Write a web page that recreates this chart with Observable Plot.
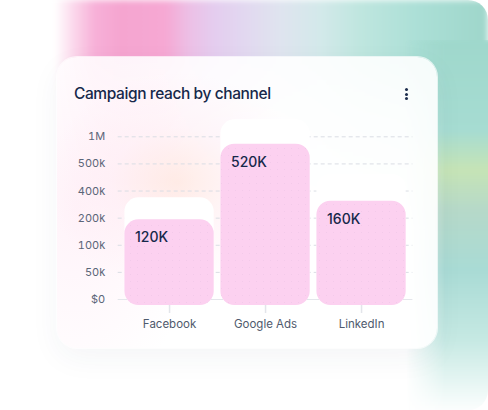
<!DOCTYPE html>
<html>
<head>
<meta charset="utf-8">
<script src="https://cdn.jsdelivr.net/npm/d3@7"></script>
<script src="https://cdn.jsdelivr.net/npm/@observablehq/plot@0.6"></script>
<style>
  html, body { margin: 0; padding: 0; background: #fff; }
  #page { position: absolute; left: 0; top: 0; width: 488px; height: 410px; border-radius: 20px; overflow: hidden; background: #fff; font-family: Inter, "Noto Sans", sans-serif; }
  #artTop { position: absolute; left: 0; top: 0; width: 488px; height: 230px;
    background: linear-gradient(90deg, #ffffff 0px, #ffffff 55px, #fbd5ea 75px, #f7b0d8 95px, #f5a5d0 120px, #f6a8d3 165px, #ecc0e6 190px, #e4cdef 215px, #e2d8f0 245px, #dfe4ef 280px, #d3e9ea 320px, #bfe6df 360px, #abdfd6 420px, #9ed6ca 488px);
    -webkit-mask-image: linear-gradient(180deg, #000 0px, #000 62px, rgba(0,0,0,0.5) 120px, rgba(0,0,0,0) 230px);
    mask-image: linear-gradient(180deg, #000 0px, #000 62px, rgba(0,0,0,0.5) 120px, rgba(0,0,0,0) 230px);
    filter: blur(3px); }
  #artRight { position: absolute; left: 405px; top: 40px; width: 90px; height: 375px;
    background: linear-gradient(180deg, #9fd8cc 0px, #a6dcd2 90px, #c6e4b6 130px, #b6d9c9 170px, #a9dbd5 230px, #c6e9e3 300px, #f4fbfa 360px, #ffffff 375px);
    -webkit-mask-image: linear-gradient(90deg, rgba(0,0,0,0) 0px, #000 40px);
    mask-image: linear-gradient(90deg, rgba(0,0,0,0) 0px, #000 40px);
    filter: blur(2px); }
  #card { position: absolute; left: 57px; top: 57px; width: 380px; height: 291px; border-radius: 20px;
    background: rgba(255,255,255,0.9);
    box-shadow: 0 0 0 1px rgba(255,255,255,0.7), 0 10px 30px rgba(40,60,90,0.05);
    overflow: hidden; }
  #glow { position: absolute; left: 0; top: 0; width: 380px; height: 291px;
    background: radial-gradient(ellipse 130px 110px at 120px 125px, rgba(255,214,200,0.45), rgba(255,225,235,0.28) 50%, rgba(255,240,246,0) 100%),
                radial-gradient(ellipse 120px 200px at 20px 150px, rgba(255,228,242,0.45), rgba(255,240,248,0) 100%); }
  #title { position: absolute; left: 17px; top: 26.5px; font-size: 15.5px; line-height: 20px; font-weight: 500; color: #16284a; letter-spacing: -0.4px; white-space: nowrap; }
  .dot { position: absolute; left: 348px; width: 3px; height: 3px; border-radius: 50%; background: #1d2d4d; }
  #chart { position: absolute; left: 0; top: 53px; }
</style>
</head>
<body>
<div id="page">
  <div id="artTop"></div>
  <div id="artRight"></div>
  <div id="card">
    <div id="glow"></div>
    <div id="title">Campaign reach by channel</div>
    <div class="dot" style="top:31px"></div>
    <div class="dot" style="top:35.5px"></div>
    <div class="dot" style="top:40px"></div>
    <div id="chart"></div>
  </div>
</div>
<script>
// Data
const channels = ["Facebook", "Google Ads", "LinkedIn"];
// bar heights as read against the drawn axis
const reach = [194000, 863000, 325000];
// value labels printed on the bars
const reachLabels = ["120K", "520K", "160K"];
// pale backdrop bars behind each bar, read against the axis
const backdrop = [350000, 1313000, 461000];
// axis ticks and labels
const yTicks = [0, 50000, 100000, 200000, 400000, 500000, 1000000];
const yTickLabels = ["$0", "50k", "100k", "200k", "400k", "500k", "1M"];

const data = channels.map((c, i) => ({channel: c, reach: reach[i], label: reachLabels[i], backdrop: backdrop[i]}));

const chart = Plot.plot({
  width: 380,
  height: 230,
  marginLeft: 60.7,
  marginRight: 24.6,
  marginTop: 26.3,
  marginBottom: 41,
  style: {background: "transparent", fontFamily: "Inter, sans-serif", fontSize: "11px", color: "#5b6578", overflow: "visible"},
  x: {domain: channels, padding: 0.07, round: false, label: null, axis: null},
  y: {type: "linear", domain: yTicks, label: null, axis: null},
  marks: [
    Plot.ruleY(yTicks.filter(d => d > 0), {stroke: "#dadde4", strokeDasharray: "4,3"}),
    Plot.ruleY([0], {stroke: "#e4e6eb"}),
    Plot.axisY(yTicks, {tickSize: 0, tickPadding: 13, tickFormat: d => yTickLabels[yTicks.indexOf(d)], fontSize: 11, fill: "#5b6578", label: null}),
    Plot.axisX({tickSize: 14, tickPadding: 6.5, stroke: "#e3e5ea", strokeWidth: 1.5, fontSize: 11.5, fill: "#4f5a6d", label: null}),
    Plot.barY(data, {x: "channel", y: "backdrop", fill: "#ffffff", rx: 14, insetBottom: -6}),
    Plot.barY(data, {x: "channel", y: "reach", fill: "#fcd1f0", rx: 14, insetBottom: -6}),
    Plot.barY(data, {x: "channel", y: "reach", fill: "url(#barDots)", rx: 14, insetBottom: -6}),
    Plot.text(data, {x: "channel", y: "reach", text: "label", textAnchor: "start", lineAnchor: "top", dx: -34.5, dy: 12.5, fontSize: 14, fontWeight: 500, fill: "#16284a"})
  ]
});
// faint dot texture used by the bar overlay
const ns = "http://www.w3.org/2000/svg";
const defs = document.createElementNS(ns, "defs");
const pat = document.createElementNS(ns, "pattern");
pat.setAttribute("id", "barDots");
pat.setAttribute("width", "7");
pat.setAttribute("height", "7");
pat.setAttribute("patternUnits", "userSpaceOnUse");
const c = document.createElementNS(ns, "circle");
c.setAttribute("cx", "3.5"); c.setAttribute("cy", "3.5"); c.setAttribute("r", "0.5");
c.setAttribute("fill", "#d9b3d6"); c.setAttribute("fill-opacity", "0.35");
pat.appendChild(c); defs.appendChild(pat);
chart.insertBefore(defs, chart.firstChild);
document.getElementById("chart").appendChild(chart);
</script>
</body>
</html>
